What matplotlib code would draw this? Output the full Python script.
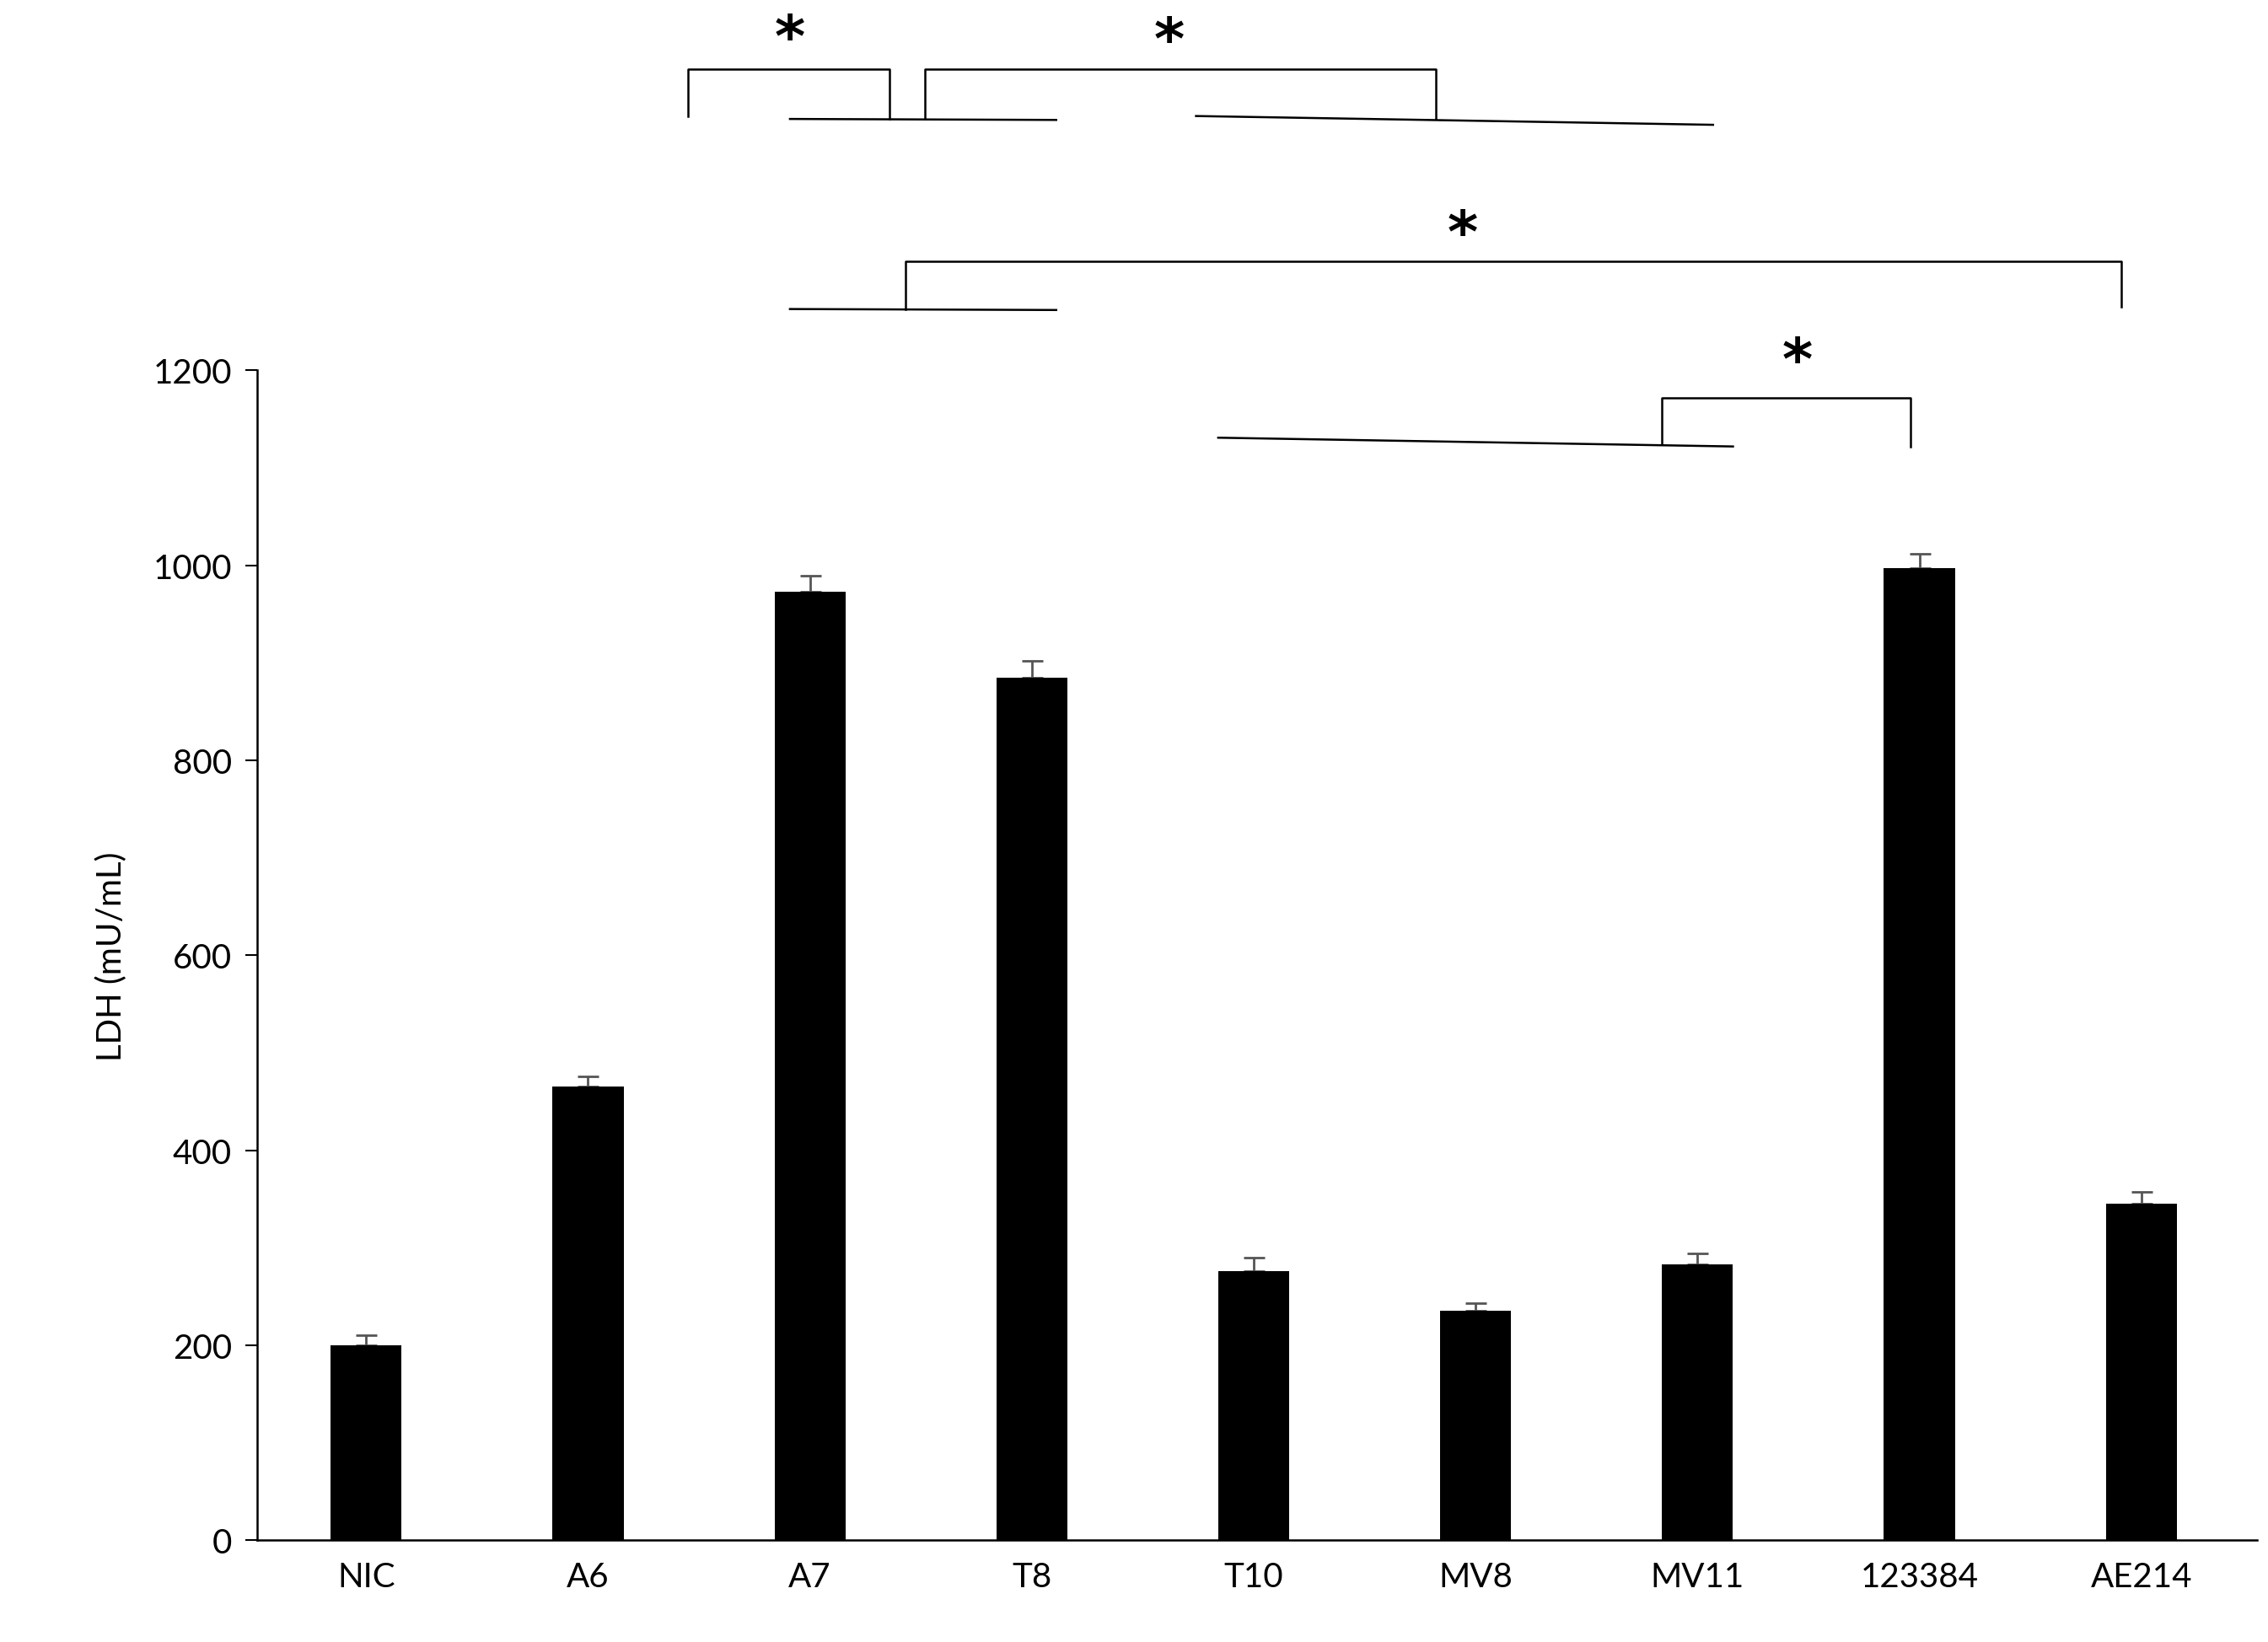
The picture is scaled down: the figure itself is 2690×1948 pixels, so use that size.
import matplotlib
matplotlib.use("Agg")
import matplotlib.pyplot as plt

categories = ["NIC", "A6", "A7", "T8", "T10", "MV8", "MV11", "123384", "AE214"]
values = [200, 465, 973, 885, 276, 235, 283, 997, 345]
errors = [10, 11, 16, 17, 14, 8, 11, 15, 12]
yticks = [0, 200, 400, 600, 800, 1000, 1200]

# brackets: (x_left, x_right, y_top, y_left_bottom, y_right_bottom, star_x, star_y)
brackets = [
    (1.45, 2.36, 1509, 1461, 1458, 1.91, 1540),
    (2.52, 4.82, 1509, 1458, 1458, 3.62, 1537),
    (2.43, 7.91, 1312, 1263, 1265, 4.94, 1339),
    (5.84, 6.96, 1172, 1124, 1122, 6.45, 1209),
]
# plain lines: (x0, y0, x1, y1)
lines = [
    (1.91, 1458, 3.11, 1457),
    (3.74, 1461, 6.07, 1452),
    (1.91, 1263, 3.11, 1262),
    (3.84, 1131, 6.16, 1122),
]

plt.rcParams['font.family'] = ['Lato', 'DejaVu Sans']
fig = plt.figure(figsize=(26.9, 19.49), dpi=100)
ax = fig.add_axes([0.1135, 0.062, 0.8815, 0.712])
x = range(len(categories))
ax.bar(x, values, width=0.32, color="black", zorder=2)
ax.errorbar(x, values, yerr=[[0]*len(errors), errors], fmt="none",
            ecolor="#555555", elinewidth=2, capsize=9, capthick=2, zorder=1)
ax.set_xlim(-0.49, 8.52)
ax.set_ylim(0, 1200)
ax.set_yticks(yticks)
ax.set_xticks(list(x))
ax.set_xticklabels(categories)
ax.tick_params(axis="both", labelsize=29, length=0, pad=18)
ax.tick_params(axis="y", length=10, width=1.5, direction="out", pad=12)
for s in ["top", "right"]:
    ax.spines[s].set_visible(False)
for s in ["left", "bottom"]:
    ax.spines[s].set_linewidth(1.8)
ax.set_ylabel("LDH (mU/mL)", fontsize=29, labelpad=22)

kw = dict(color="black", lw=1.8, clip_on=False)
for xl, xr, yt, ylb, yrb, sx, sy in brackets:
    ax.plot([xl, xl, xr, xr], [ylb, yt, yt, yrb], **kw)
    ax.text(sx, sy, "*", fontsize=50, fontweight="bold", ha="center", va="center",
            family="DejaVu Sans")
for x0, y0, x1, y1 in lines:
    ax.plot([x0, x1], [y0, y1], **kw)

fig.savefig("out.png", dpi=100)
